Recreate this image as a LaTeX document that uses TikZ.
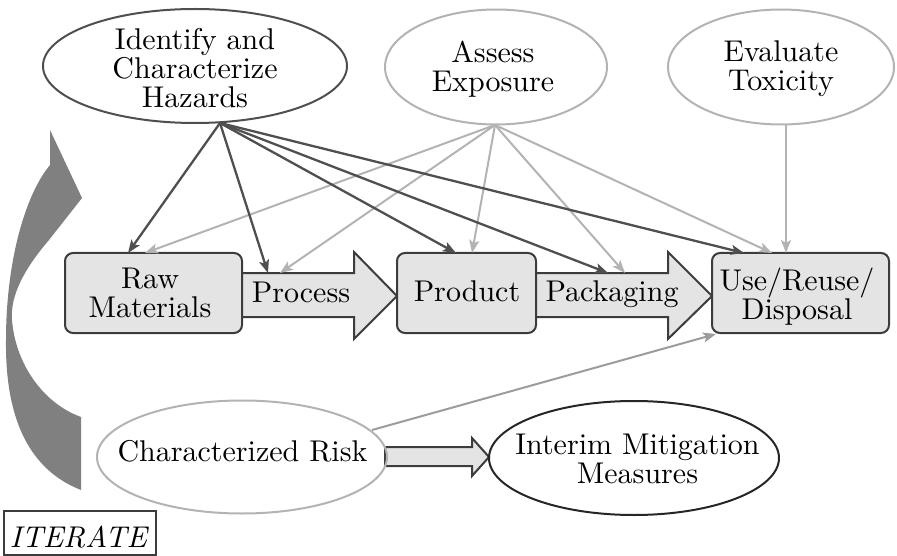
\documentclass[tikz,border=0pt]{standalone}
\usepackage{fontspec}
\setmainfont{lmroman10}[Extension=.otf, UprightFont=*-regular, ItalicFont=*-italic, BoldFont=*-bold]
\usetikzlibrary{shapes.geometric,arrows.meta}
\definecolor{darkln}{HTML}{4F4F4F}
\definecolor{lightln}{HTML}{B3B3B3}
\definecolor{midln}{HTML}{9C9C9C}
\definecolor{boxfill}{HTML}{E4E4E4}
\definecolor{boxline}{HTML}{3C3C3C}
\definecolor{loopgray}{HTML}{808080}
\begin{document}
\begin{tikzpicture}[x=1pt,y=-1pt,
  every node/.style={font=\fontsize{30}{29}\selectfont, inner sep=0pt, align=center},
  oval/.style={draw, ellipse, line width=2pt},
  stagebox/.style={draw=boxline, fill=boxfill, rounded corners=8pt, line width=2pt},
  flowarrow/.style={draw=boxline, fill=boxfill, line width=2pt, line join=miter},
  tip/.style={-{Stealth[length=13pt,width=10pt,inset=3pt]}},
  darkedge/.style={tip, draw=darkln, line width=2.3pt},
  lightedge/.style={tip, draw=lightln, line width=2pt},
  riskedge/.style={tip, draw=midln, line width=2pt},
]
\useasboundingbox (0,0) rectangle (897,556);

% iteration loop arrow
\fill[loopgray] (50,130) -- (82,198) -- (49,240)
  .. controls (25,268) and (10,295) .. (12,320)
  .. controls (15,360) and (40,402) .. (81,417)
  -- (81,490)
  .. controls (30,470) and (5,420) .. (6,340)
  .. controls (6,262) and (25,195) .. (50,165) -- cycle;

% block arrows between stages
\filldraw[flowarrow] (240,273) -- (354,273) -- (354,252) -- (397,296)
  -- (354,339) -- (354,317) -- (240,317) -- cycle;
\filldraw[flowarrow] (534,273) -- (668,273) -- (668,252) -- (712,296)
  -- (668,339) -- (668,317) -- (534,317) -- cycle;
\filldraw[flowarrow] (385,447) -- (472,447) -- (472,438) -- (489,457)
  -- (472,476) -- (472,466) -- (385,466) -- cycle;

% assessment ovals
\node[oval, draw=darkln, minimum width=304pt, minimum height=114pt] (hz) at (195,66) {};
\node (hzt) at (195,68.5) {Identify and\\Characterize\\Hazards};
\node[oval, draw=lightln, minimum width=222pt, minimum height=115pt] (ex) at (496,67) {};
\node (ext) at (493,69) {Assess\\Exposure};
\node[oval, draw=lightln, minimum width=226pt, minimum height=115pt] (tx) at (781,67) {};
\node (txt) at (781,69) {Evaluate\\Toxicity};

% life-cycle stages
\node[stagebox, minimum width=177pt, minimum height=80pt] (raw) at (153.5,293) {};
\node (rawt) at (150,293) {Raw\\Materials};
\node[stagebox, minimum width=139pt, minimum height=80pt] (prod) at (466.5,293) {};
\node (prodt) at (467,291.5) {Product};
\node[stagebox, minimum width=177pt, minimum height=80pt] (use) at (800.5,293) {};
\node (uset) at (797,296.5) {Use/Reuse/\\Disposal};
\node (proct) at (301,292.7) {Process};
\node (packt) at (612,294.5) {Packaging};

% risk and mitigation
\node[oval, draw=lightln, minimum width=290pt, minimum height=113pt] (risk) at (242,457) {};
\node (riskt) at (242.5,451.6) {Characterized Risk};
\node[oval, draw=black!85, minimum width=290pt, minimum height=114pt] (mit) at (634,458) {};
\node (mitt) at (637.5,458.5) {Interim Mitigation\\Measures};

\node[draw=boxline, line width=1.5pt, minimum width=152pt, minimum height=44pt] (itbox) at (80,533) {};
\node (itt) at (78.5,537) {\itshape ITERATE};

% connector ends
\coordinate (hzo) at (220,123);
\coordinate (exo) at (495,125);
\coordinate (txo) at (786,124);
\coordinate (riskout) at (372,430);
\coordinate (rawA) at (128,253);
\coordinate (rawB) at (145,253);
\coordinate (procA) at (268,273);
\coordinate (procB) at (280,273);
\coordinate (prodA) at (456,253);
\coordinate (prodB) at (472,253);
\coordinate (packA) at (608,273);
\coordinate (packB) at (625,273);
\coordinate (useA) at (744,253);
\coordinate (useB) at (772,253);
\coordinate (useC) at (786,253);
\coordinate (useD) at (716,334);

% exposure and toxicity links
\foreach \t in {rawB,procB,prodB,packB,useB}
  \draw[lightedge] (exo) -- (\t);
\draw[lightedge] (txo) -- (useC);
% hazard links
\foreach \t in {rawA,procA,prodA,packA,useA}
  \draw[darkedge] (hzo) -- (\t);
% risk feedback
\draw[riskedge] (riskout) -- (useD);
\end{tikzpicture}
\end{document}
